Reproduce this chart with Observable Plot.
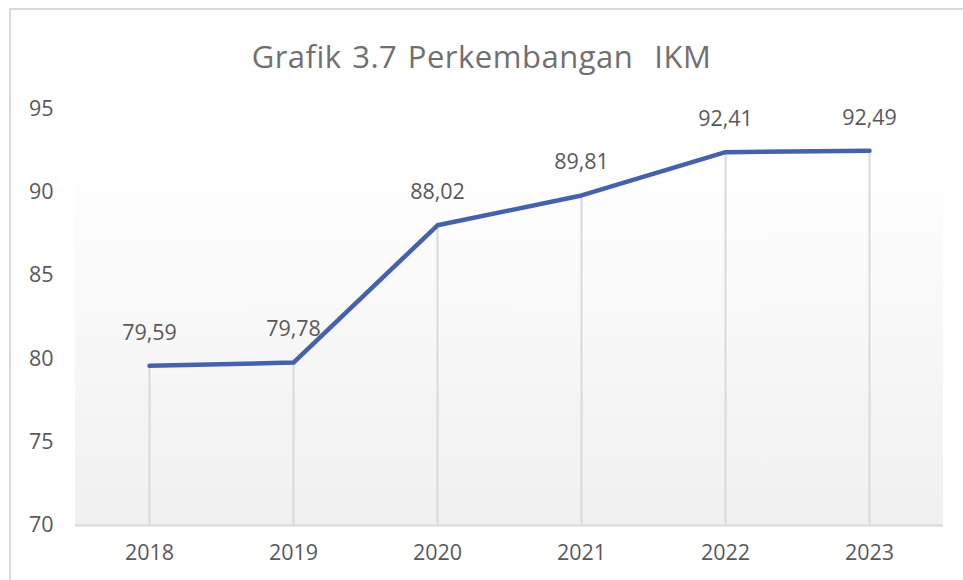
<!DOCTYPE html>
<html>
<head>
<meta charset="utf-8">
<script src="https://cdn.jsdelivr.net/npm/d3@7"></script>
<script src="https://cdn.jsdelivr.net/npm/@observablehq/plot@0.6"></script>
<style>
  html, body { margin: 0; padding: 0; background: #ffffff; }
  #wrap { position: relative; width: 963px; height: 580px; overflow: hidden; }
  #border { position: absolute; left: 9px; top: 8px; width: 960px; height: 580px;
            border-top: 2px solid #d9d9d9; border-left: 2px solid #d9d9d9; box-sizing: border-box; }
  #title { position: absolute; left: 0; top: 0; width: 963px; height: 90px; line-height: 112px;
           text-align: center; font-family: "Open Sans", sans-serif; font-size: 31px;
           color: #707070; letter-spacing: 0.5px; word-spacing: 2px; white-space: pre; }
  #chart { position: absolute; left: 0; top: 90px; }
</style>
</head>
<body>
<div id="wrap">
  <div id="border"></div>
  <div id="title">Grafik 3.7 Perkembangan  IKM</div>
  <div id="chart"></div>
</div>
<script>
const years = ["2018", "2019", "2020", "2021", "2022", "2023"];
const values = [79.59, 79.78, 88.02, 89.81, 92.41, 92.49];
const yTicks = [70, 75, 80, 85, 90, 95];

const data = years.map((y, i) => ({year: y, value: values[i]}));
const fmt = v => v.toFixed(2).replace(".", ",");
const gradTop = d3.max(values);

const chart = Plot.plot({
  width: 963,
  height: 490,
  marginLeft: 75,
  marginRight: 20,
  marginTop: 18.5,
  marginBottom: 55,
  style: {fontFamily: "Open Sans, sans-serif", fontSize: "21.5px", color: "#595959", background: "transparent"},
  x: {type: "point", domain: years, padding: 0.5, label: null, tickSize: 0, tickPadding: 19},
  y: {domain: [70, 95], ticks: yTicks, label: null, tickSize: 0, tickPadding: 22, tickFormat: d => d},
  marks: [
    Plot.rect([0], {y1: 70, y2: gradTop, fill: "url(#bggrad)"}),
    Plot.ruleX(data, {x: "year", y1: 70, y2: "value", stroke: "#d9d9d9", strokeWidth: 2}),
    Plot.ruleY([70], {stroke: "#d9d9d9", strokeWidth: 2}),
    Plot.line(data, {x: "year", y: "value", stroke: "#4561ad", strokeWidth: 4.5, strokeLinejoin: "round", strokeLinecap: "round"}),
    Plot.text(data, {x: "year", y: "value", text: d => fmt(d.value), dy: -33, fill: "#595959", fontSize: 21.5})
  ]
});

const svg = d3.select(chart);
const defs = svg.insert("defs", ":first-child");
const g = defs.append("linearGradient").attr("id", "bggrad").attr("x1", 0).attr("y1", 0).attr("x2", 0).attr("y2", 1);
g.append("stop").attr("offset", "0%").attr("stop-color", "#ffffff");
g.append("stop").attr("offset", "100%").attr("stop-color", "#f0f0f0");

document.getElementById("chart").appendChild(chart);
</script>
</body>
</html>
